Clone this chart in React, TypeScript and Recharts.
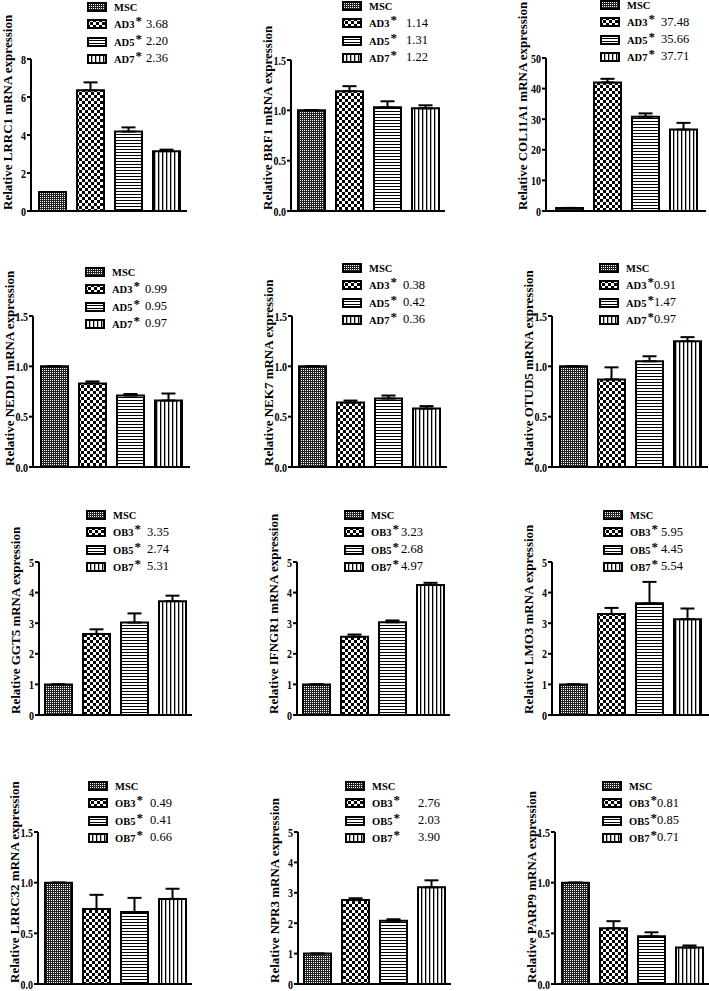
import { BarChart, Bar, XAxis, YAxis, ErrorBar } from 'recharts';

const SERIF = '"Liberation Serif", "Times New Roman", serif';

// gene panels, left to right, top to bottom
const genes = ['LRRC1', 'BRF1', 'COL11A1', 'NEDD1', 'NEK7', 'OTUD5', 'GGT5', 'IFNGR1', 'LMO3', 'LRRC32', 'NPR3', 'PARP9'];
const adGroups = ['MSC', 'AD3', 'AD5', 'AD7'];
const obGroups = ['MSC', 'OB3', 'OB5', 'OB7'];

// bar heights (mean) for MSC, day3, day5, day7
const means = [
  [1, 6.35, 4.18, 3.15],
  [1, 1.19, 1.03, 1.02],
  [1, 42.0, 30.8, 26.6],
  [1, 0.83, 0.71, 0.66],
  [1, 0.64, 0.68, 0.58],
  [1, 0.87, 1.05, 1.25],
  [1, 2.65, 3.02, 3.72],
  [1, 2.56, 3.03, 4.25],
  [1, 3.3, 3.65, 3.13],
  [1, 0.74, 0.71, 0.84],
  [1, 2.76, 2.08, 3.18],
  [1, 0.55, 0.47, 0.36],
];

// upper error (SEM)
const errors = [
  [0, 0.42, 0.22, 0.08],
  [0, 0.05, 0.06, 0.03],
  [0, 1.2, 1.1, 2.2],
  [0, 0.02, 0.015, 0.07],
  [0, 0.02, 0.03, 0.025],
  [0, 0.12, 0.05, 0.04],
  [0, 0.15, 0.3, 0.18],
  [0, 0.07, 0.06, 0.07],
  [0, 0.2, 0.7, 0.35],
  [0, 0.14, 0.14, 0.1],
  [0, 0.06, 0.05, 0.23],
  [0, 0.07, 0.04, 0.02],
];

// numbers printed next to the legend entries
const legendValues = [
  ['3.68', '2.20', '2.36'],
  ['1.14', '1.31', '1.22'],
  ['37.48', '35.66', '37.71'],
  ['0.99', '0.95', '0.97'],
  ['0.38', '0.42', '0.36'],
  ['0.91', '1.47', '0.97'],
  ['3.35', '2.74', '5.31'],
  ['3.23', '2.68', '4.97'],
  ['5.95', '4.45', '5.54'],
  ['0.49', '0.41', '0.66'],
  ['2.76', '2.03', '3.90'],
  ['0.81', '0.85', '0.71'],
];

const ticks8 = [0, 2, 4, 6, 8];
const ticks15 = [0, 0.5, 1, 1.5];
const ticks50 = [0, 10, 20, 30, 40, 50];
const ticks5 = [0, 1, 2, 3, 4, 5];
const panelTicks = [ticks8, ticks15, ticks50, ticks15, ticks15, ticks15, ticks5, ticks5, ticks5, ticks15, ticks5, ticks15];

// layout: y-axis x, axis top, baseline, axis end, legend box x, first legend row y, value offset
const layout = [
  { ax: 31, top: 59, base: 211, end: 187, lx: 87, ly: 7, vdx: 32 },
  { ax: 291, top: 60, base: 211, end: 445, lx: 342, ly: 6, vdx: 37 },
  { ax: 546, top: 58, base: 211, end: 706, lx: 600, ly: 5, vdx: 34 },
  { ax: 33, top: 316, base: 467, end: 190, lx: 85, ly: 272, vdx: 33 },
  { ax: 292, top: 316, base: 467, end: 447, lx: 342, ly: 268, vdx: 34 },
  { ax: 552, top: 316, base: 467, end: 708, lx: 599, ly: 268, vdx: 28 },
  { ax: 39, top: 562, base: 715, end: 192, lx: 86, ly: 515, vdx: 34 },
  { ax: 297, top: 562, base: 715, end: 450, lx: 344, ly: 515, vdx: 30 },
  { ax: 552, top: 562, base: 715, end: 709, lx: 603, ly: 515, vdx: 31 },
  { ax: 38, top: 832, base: 984, end: 192, lx: 88, ly: 786, vdx: 35 },
  { ax: 298, top: 832, base: 984, end: 451, lx: 345, ly: 786, vdx: 46 },
  { ax: 555, top: 832, base: 984, end: 709, lx: 602, ly: 786, vdx: 28 },
];

const patterns = ['patMsc', 'patCheck', 'patHoriz', 'patVert'];

function Patterns() {
  return (
    <svg width={0} height={0} style={{ position: 'absolute' }}>
      <defs>
        <pattern id="patMsc" width={2} height={2} patternUnits="userSpaceOnUse">
          <rect width={2} height={2} fill="#222" />
          <rect width={1} height={1} fill="#fff" />
        </pattern>
        <pattern id="patCheck" width={6} height={6} patternUnits="userSpaceOnUse">
          <rect width={6} height={6} fill="#fff" />
          <rect width={3} height={3} fill="#000" />
          <rect x={3} y={3} width={3} height={3} fill="#000" />
        </pattern>
        <pattern id="patHoriz" width={3} height={3} patternUnits="userSpaceOnUse">
          <rect width={3} height={3} fill="#fff" />
          <rect width={3} height={1} fill="#000" />
        </pattern>
        <pattern id="patVert" width={4} height={4} patternUnits="userSpaceOnUse">
          <rect width={4} height={4} fill="#fff" />
          <rect width={1.3} height={4} fill="#000" />
        </pattern>
      </defs>
    </svg>
  );
}

function AxisTitle(props: any) {
  const vb = props.viewBox || { x: 5, y: 60, width: 40, height: 150 };
  const tx = vb.x + vb.width - 19;
  const ty = vb.y + vb.height - 1;
  return (
    <text
      x={tx}
      y={ty}
      transform={`rotate(-90 ${tx} ${ty})`}
      textAnchor="start"
      fill="#000"
      style={{ fontFamily: SERIF, fontWeight: 700, fontSize: 13 }}
    >
      {props.text}
    </text>
  );
}

// narrow bold tick numbers like the original figure
function YTick(props: any) {
  const { x, y, payload, decimals } = props;
  return (
    <g transform={`translate(${x},${y})`}>
      <text transform="scale(0.8,1)" textAnchor="end" dy="0.36em" fill="#000"
        style={{ fontFamily: SERIF, fontWeight: 700, fontSize: 12.5 }}>
        {Number(payload.value).toFixed(decimals)}
      </text>
    </g>
  );
}

function PanelLegend({ idx, groups }: { idx: number; groups: string[] }) {
  const L = layout[idx];
  return (
    <div style={{ position: 'absolute', left: L.lx, top: L.ly - 8.5, fontFamily: SERIF, color: '#000' }}>
      {groups.map((g, i) => (
        <div key={g} style={{ position: 'relative', height: 17.3, display: 'flex', alignItems: 'center' }}>
          <svg width={20} height={10} style={{ display: 'block' }}>
            <rect x={1} y={1} width={18} height={8} fill={`url(#${patterns[i]})`} stroke="#000" strokeWidth={2} />
          </svg>
          <span style={{ marginLeft: 7, fontWeight: 700, fontSize: 10.5, whiteSpace: 'nowrap' }}>
            {g}
            {i > 0 && <span style={{ fontSize: 13, position: 'relative', top: -3, marginLeft: 1 }}>*</span>}
          </span>
          {i > 0 && (
            <span style={{ position: 'absolute', left: 27 + L.vdx, top: 0, fontSize: 12.5, lineHeight: '17px', whiteSpace: 'nowrap' }}>
              {legendValues[idx][i - 1]}
            </span>
          )}
        </div>
      ))}
    </div>
  );
}

function Panel({ idx }: { idx: number }) {
  const L = layout[idx];
  const groups = idx < 6 ? adGroups : obGroups;
  const row: any = { name: genes[idx] };
  groups.forEach((g, i) => {
    row[g] = means[idx][i];
    row[g + '_err'] = [0, errors[idx][i]];
  });
  const data = [row];
  const ticks = panelTicks[idx];
  const max = ticks[ticks.length - 1];
  const decimals = max === 1.5 ? 1 : 0;
  const mTop = 60;
  const yw = 40;
  const mLeft = 5;
  const xh = 7;
  const width = mLeft + yw + (L.end - L.ax) + 3;
  const height = mTop + (L.base - L.top) + xh;
  return (
    <>
      <div style={{ position: 'absolute', left: L.ax - yw - mLeft, top: L.top - mTop }}>
        <BarChart
          width={width}
          height={height}
          data={data}
          margin={{ top: mTop, left: mLeft, right: 3, bottom: 0 }}
          barSize={27}
          barGap={11}
        >
          <XAxis
            dataKey="name"
            tick={false}
            tickSize={4}
            height={xh}
            axisLine={{ stroke: '#000', strokeWidth: 2 }}
            tickLine={{ stroke: '#000', strokeWidth: 1.5 }}
          />
          <YAxis
            width={yw}
            domain={[0, max]}
            ticks={ticks}
            interval={0}
            tickSize={4}
            tickMargin={1}
            axisLine={{ stroke: '#000', strokeWidth: 2 }}
            tickLine={{ stroke: '#000', strokeWidth: 2 }}
            tick={<YTick decimals={decimals} />}
            label={<AxisTitle text={`Relative ${genes[idx]} mRNA expression`} />}
          />
          {groups.map((g, i) => (
            <Bar
              key={g}
              dataKey={g}
              fill={`url(#${patterns[i]})`}
              stroke="#000"
              strokeWidth={2}
              isAnimationActive={false}
            >
              <ErrorBar dataKey={g + '_err'} width={7} stroke="#000" strokeWidth={2} direction="y" />
            </Bar>
          ))}
        </BarChart>
      </div>
      <PanelLegend idx={idx} groups={groups} />
    </>
  );
}

export default function App() {
  return (
    <div style={{ position: 'absolute', left: 0, top: 0, width: 709, height: 991, overflow: 'hidden', background: '#fff' }}>
      <Patterns />
      {genes.map((g, i) => (
        <Panel key={g} idx={i} />
      ))}
    </div>
  );
}
